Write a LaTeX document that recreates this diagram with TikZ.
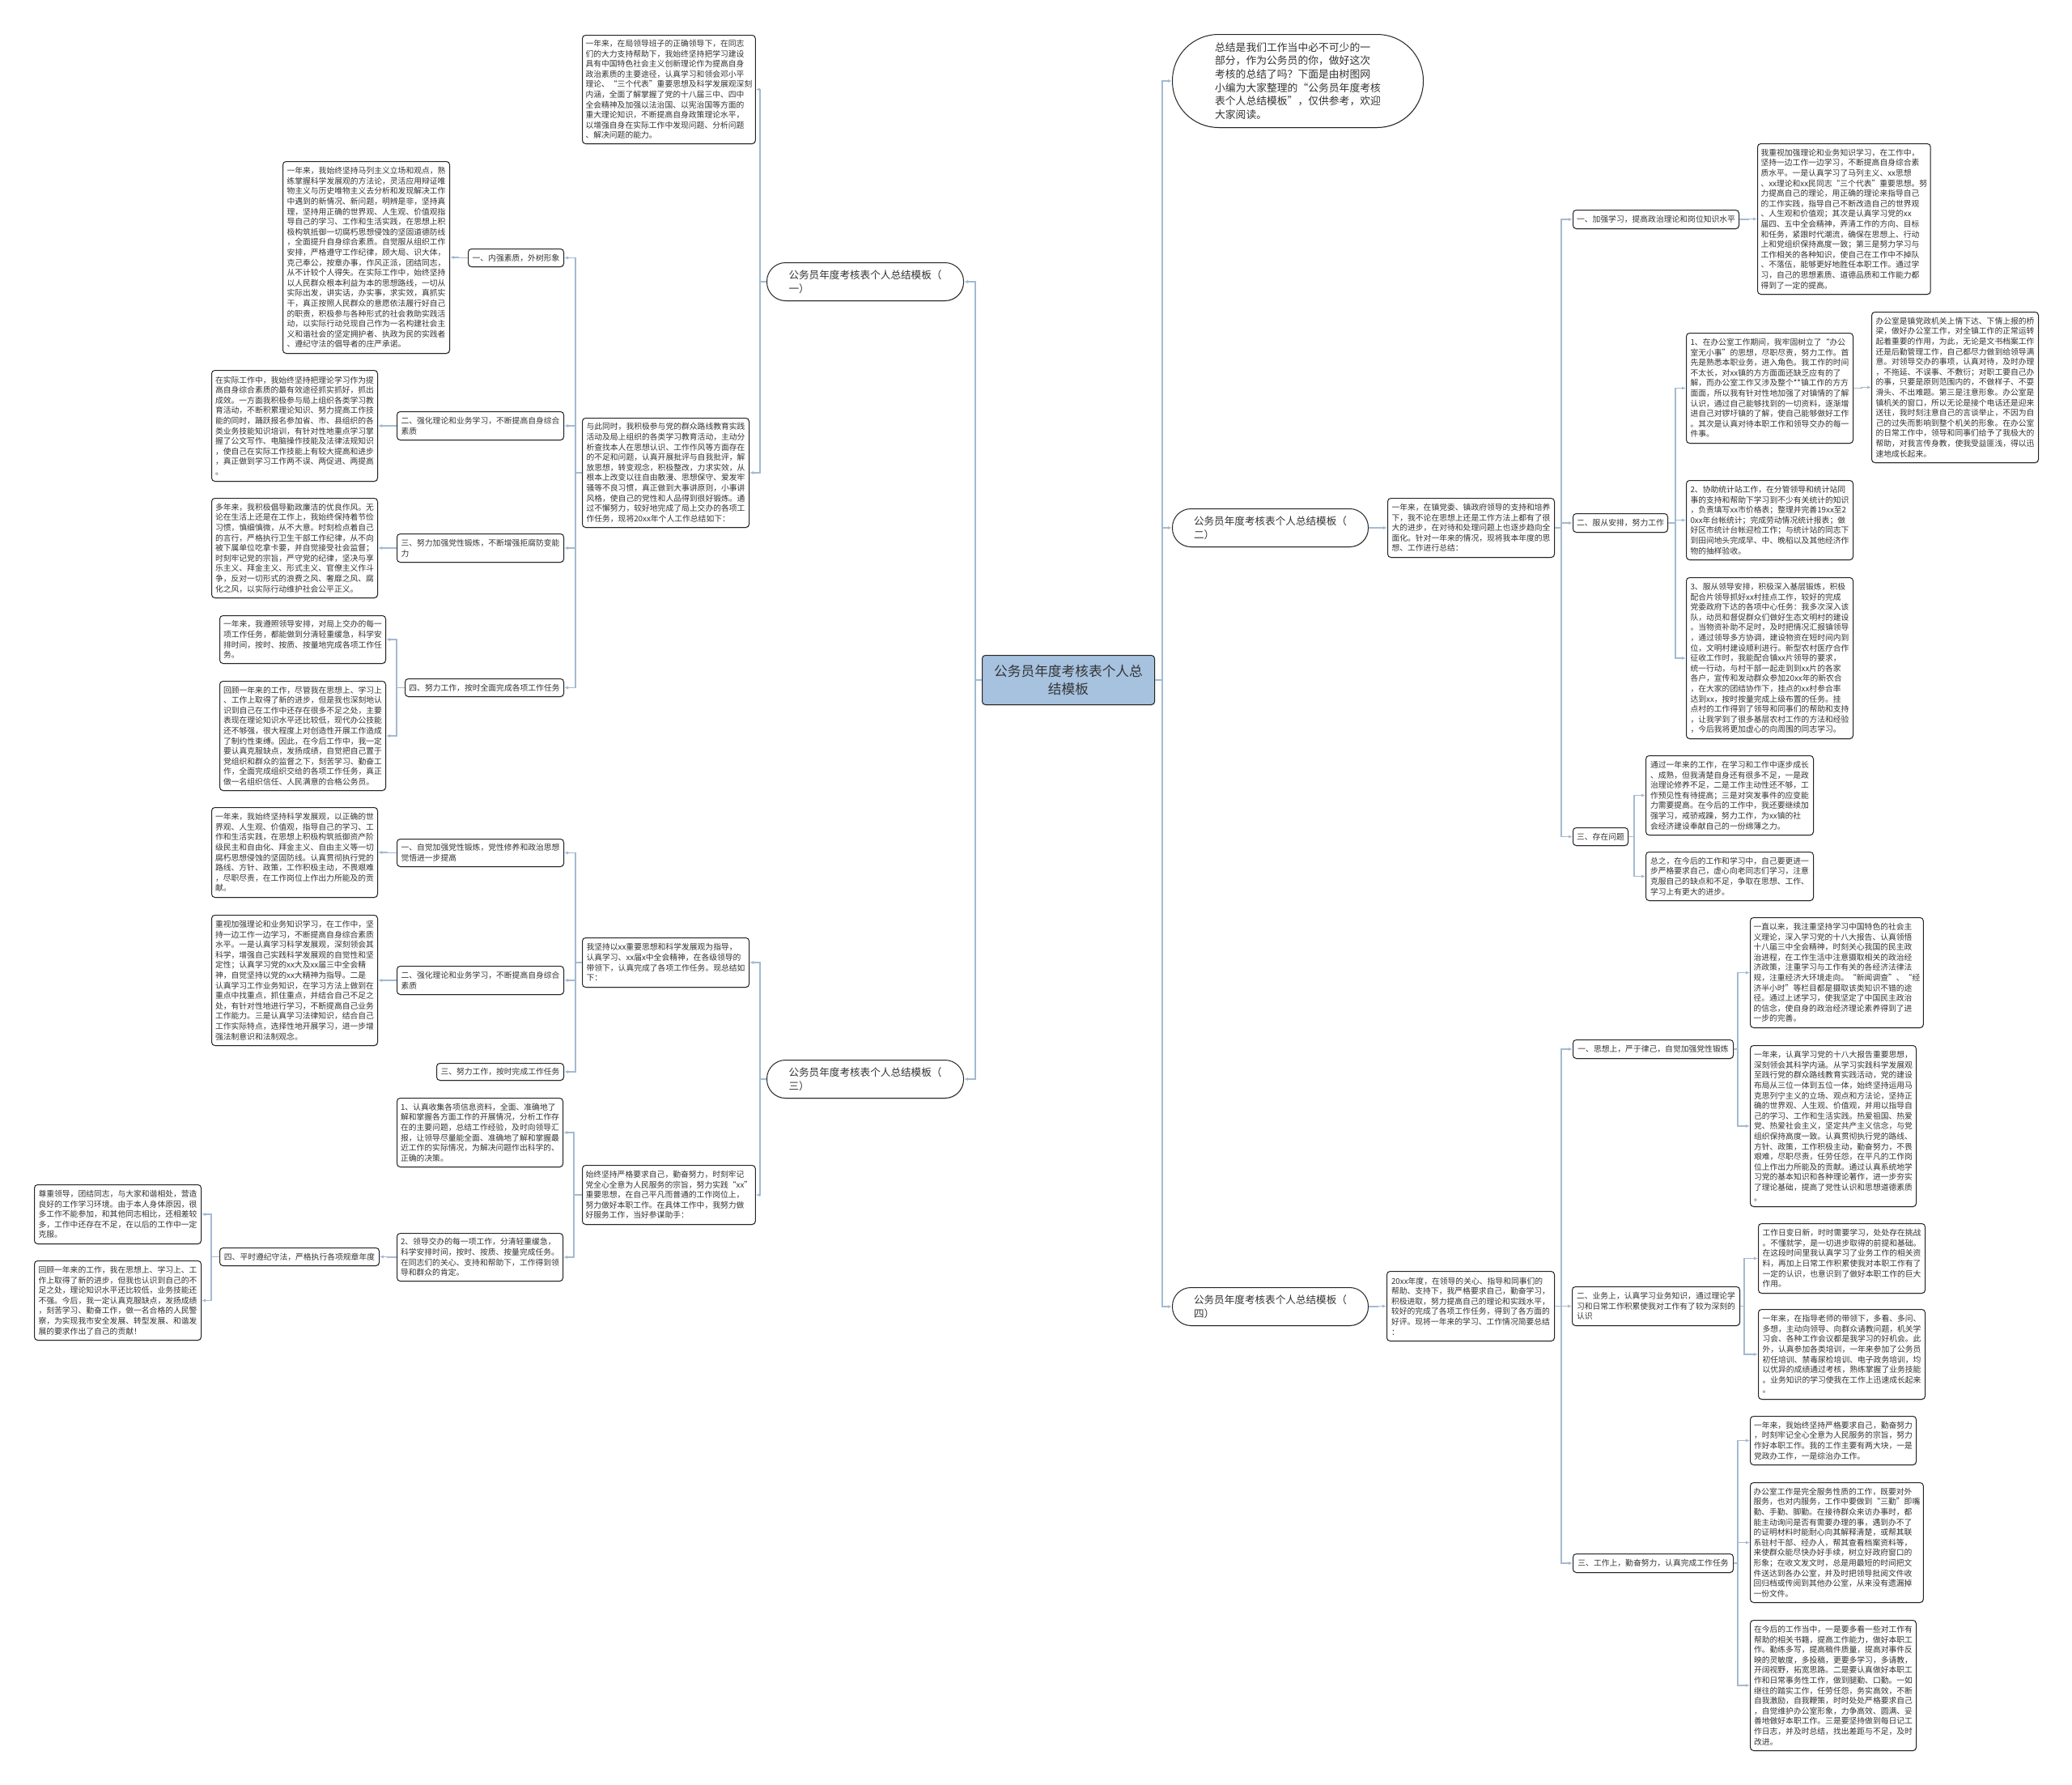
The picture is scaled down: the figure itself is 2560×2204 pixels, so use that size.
\documentclass[tikz,border=0pt]{standalone}
\usepackage{fontspec}
\setmainfont{Noto Sans CJK SC}
\usetikzlibrary{arrows.meta,shadows}
\definecolor{linec}{HTML}{A3BAD2}
\definecolor{bordc}{HTML}{262626}
\definecolor{txtc}{HTML}{333333}
\definecolor{rootc}{HTML}{A6C2DF}
\newcommand\fsA{\fontsize{9.8pt}{12.6pt}\selectfont}
\newcommand\fsB{\fontsize{12.6pt}{16.5pt}\selectfont}
\newcommand\fsC{\fontsize{16.7pt}{21.5pt}\selectfont}
\tikzset{
 blk/.style={draw=bordc, line width=1pt, rounded corners=4pt, fill=white, anchor=north west, inner xsep=4pt, inner ysep=3pt, align=left, font=\fsA, text=txtc, drop shadow={shadow xshift=0.6pt,shadow yshift=-1pt,opacity=0.3}},
 br/.style={blk, rounded corners=23pt, font=\fsB, inner xsep=10pt},
 conn/.style={draw=linec, line width=1.1pt, -{Latex[length=5pt,width=4pt]}},
}
\begin{document}
\begin{tikzpicture}[x=1pt,y=-1pt]
\fill[white] (0,0) rectangle (2560,2204);
\useasboundingbox (0,0) rectangle (2560,2204);

% ---------- centre ----------
\node[blk, fill=rootc, font=\fsC, align=center, minimum width=213pt, minimum height=61pt] (root) at (1213,809) {公务员年度考核表个人总\\结模板};

% ---------- tree one ----------
\node[br, minimum width=243pt, minimum height=47pt] (n1) at (947,324) {公务员年度考核表个人总结模板（\\一）};
\node[blk, minimum width=205pt, minimum height=134pt] (J) at (719,43) {一年来，在局领导班子的正确领导下，在同志\\们的大力支持帮助下，我始终坚持把学习建设\\具有中国特色社会主义创新理论作为提高自身\\政治素质的主要途径，认真学习和领会邓小平\\理论、“三个代表”重要思想及科学发展观深刻\\内涵，全面了解掌握了党的十八届三中、四中\\全会精神及加强以法治国、以宪治国等方面的\\重大理论知识，不断提高自身政策理论水平，\\以增强自身在实际工作中发现问题、分析问题\\、解决问题的能力。};
\node[blk, minimum width=206pt, minimum height=135pt] (K) at (719,516) {与此同时，我积极参与党的群众路线教育实践\\活动及局上组织的各类学习教育活动，主动分\\析查找本人在思想认识、工作作风等方面存在\\的不足和问题，认真开展批评与自我批评，解\\放思想，转变观念，积极整改，力求实效，从\\根本上改变以往自由散漫、思想保守、爱发牢\\骚等不良习惯，真正做到大事讲原则，小事讲\\风格，使自己的党性和人品得到很好锻炼。通\\过不懈努力，较好地完成了局上交办的各项工\\作任务，现将20xx年个人工作总结如下：};
\node[blk, minimum width=118pt, minimum height=22pt] (L1) at (578,307) {一、内强素质，外树形象};
\node[blk, minimum width=206pt, minimum height=237pt] (A) at (349,199) {一年来，我始终坚持马列主义立场和观点，熟\\练掌握科学发展观的方法论，灵活应用辩证唯\\物主义与历史唯物主义去分析和发现解决工作\\中遇到的新情况、新问题，明辨是非，坚持真\\理，坚持用正确的世界观、人生观、价值观指\\导自己的学习、工作和生活实践，在思想上积\\极构筑抵御一切腐朽思想侵蚀的坚固道德防线\\，全面提升自身综合素质。自觉服从组织工作\\安排，严格遵守工作纪律，顾大局、识大体，\\克己奉公，按章办事，作风正派，团结同志，\\从不计较个人得失。在实际工作中，始终坚持\\以人民群众根本利益为本的思想路线，一切从\\实际出发，讲实话，办实事，求实效，真抓实\\干，真正按照人民群众的意愿依法履行好自己\\的职责，积极参与各种形式的社会救助实践活\\动，以实际行动兑现自己作为一名构建社会主\\义和谐社会的坚定拥护者、执政为民的实践者\\、遵纪守法的倡导者的庄严承诺。};
\node[blk, minimum width=206pt, minimum height=35pt] (L2) at (490,508) {二、强化理论和业务学习，不断提高自身综合\\素质};
\node[blk, minimum width=205pt, minimum height=137pt] (B) at (261,457) {在实际工作中，我始终坚持把理论学习作为提\\高自身综合素质的最有效途径抓实抓好，抓出\\成效。一方面我积极参与局上组织各类学习教\\育活动，不断积累理论知识、努力提高工作技\\能的同时，踊跃报名参加省、市、县组织的各\\类业务技能知识培训，有针对性地重点学习掌\\握了公文写作、电脑操作技能及法律法规知识\\，使自己在实际工作技能上有较大提高和进步\\，真正做到学习工作两不误、两促进、两提高\\。};
\node[blk, minimum width=206pt, minimum height=35pt] (L3) at (490,659) {三、努力加强党性锻炼，不断增强拒腐防变能\\力};
\node[blk, minimum width=205pt, minimum height=123pt] (C) at (261,615) {多年来，我积极倡导勤政廉洁的优良作风。无\\论在生活上还是在工作上，我始终保持着节俭\\习惯，慎细慎微，从不大意。时刻检点着自己\\的言行，严格执行卫生干部工作纪律，从不向\\被下属单位吃拿卡要，并自觉接受社会监督；\\时刻牢记党的宗旨，严守党的纪律，坚决与享\\乐主义、拜金主义、形式主义、官僚主义作斗\\争，反对一切形式的浪费之风、奢靡之风、腐\\化之风，以实际行动维护社会公平正义。};
\node[blk, minimum width=196pt, minimum height=22pt] (L4) at (500,838) {四、努力工作，按时全面完成各项工作任务};
\node[blk, minimum width=205pt, minimum height=59pt] (D) at (271,760) {一年来，我遵照领导安排，对局上交办的每一\\项工作任务，都能做到分清轻重缓急，科学安\\排时间，按时、按质、按量地完成各项工作任\\务。};
\node[blk, minimum width=205pt, minimum height=135pt] (E) at (271,841) {回顾一年来的工作，尽管我在思想上、学习上\\、工作上取得了新的进步，但是我也深刻地认\\识到自己在工作中还存在很多不足之处，主要\\表现在理论知识水平还比较低，现代办公技能\\还不够强，很大程度上对创造性开展工作造成\\了制约性束缚。因此，在今后工作中，我一定\\要认真克服缺点，发扬成绩，自觉把自己置于\\党组织和群众的监督之下，刻苦学习、勤奋工\\作，全面完成组织交给的各项工作任务，真正\\做一名组织信任、人民满意的合格公务员。};

% ---------- tree three ----------
\node[br, minimum width=243pt, minimum height=47pt] (n3) at (947,1309) {公务员年度考核表个人总结模板（\\三）};
\node[blk, minimum width=206pt, minimum height=61pt] (L) at (719,1158) {我坚持以xx重要思想和科学发展观为指导，\\认真学习、xx届x中全会精神，在各级领导的\\带领下，认真完成了各项工作任务。现总结如\\下：};
\node[blk, minimum width=206pt, minimum height=34pt] (M1) at (490,1036) {一、自觉加强党性锻炼，党性修养和政治思想\\觉悟进一步提高};
\node[blk, minimum width=205pt, minimum height=111pt] (F) at (261,997) {一年来，我始终坚持科学发展观，以正确的世\\界观、人生观、价值观，指导自己的学习、工\\作和生活实践，在思想上积极构筑抵御资产阶\\级民主和自由化、拜金主义、自由主义等一切\\腐朽思想侵蚀的坚固防线。认真贯彻执行党的\\路线、方针、政策，工作积极主动，不畏艰难\\，尽职尽责，在工作岗位上作出力所能及的贡\\献。};
\node[blk, minimum width=206pt, minimum height=35pt] (M2) at (490,1193) {二、强化理论和业务学习，不断提高自身综合\\素质};
\node[blk, minimum width=205pt, minimum height=161pt] (G) at (261,1130) {重视加强理论和业务知识学习，在工作中，坚\\持一边工作一边学习，不断提高自身综合素质\\水平。一是认真学习科学发展观，深刻领会其\\科学，增强自己实践科学发展观的自觉性和坚\\定性；认真学习党的xx大及xx届三中全会精\\神，自觉坚持以党的xx大精神为指导。二是\\认真学习工作业务知识，在学习方法上做到在\\重点中找重点，抓住重点，并结合自己不足之\\处，有针对性地进行学习，不断提高自己业务\\工作能力。三是认真学习法律知识，结合自己\\工作实际特点，选择性地开展学习，进一步增\\强法制意识和法制观念。};
\node[blk, minimum width=157pt, minimum height=21pt] (M3) at (539,1313) {三、努力工作，按时完成工作任务};
\node[blk, minimum width=204pt, minimum height=73pt] (M) at (719,1439) {始终坚持严格要求自己，勤奋努力，时刻牢记\\党全心全意为人民服务的宗旨，努力实践“xx”\\重要思想，在自己平凡而普通的工作岗位上，\\努力做好本职工作。在具体工作中，我努力做\\好服务工作，当好参谋助手：};
\node[blk, minimum width=205pt, minimum height=85pt] (N) at (490,1356) {1、认真收集各项信息资料，全面、准确地了\\解和掌握各方面工作的开展情况，分析工作存\\在的主要问题，总结工作经验，及时向领导汇\\报，让领导尽量能全面、准确地了解和掌握最\\近工作的实际情况，为解决问题作出科学的、\\正确的决策。};
\node[blk, minimum width=205pt, minimum height=59pt] (O) at (490,1523) {2、领导交办的每一项工作，分清轻重缓急，\\科学安排时间，按时、按质、按量完成任务。\\在同志们的关心、支持和帮助下，工作得到领\\导和群众的肯定。};
\node[blk, minimum width=197pt, minimum height=22pt] (M4) at (271,1541) {四、平时遵纪守法，严格执行各项规章年度};
\node[blk, minimum width=206pt, minimum height=73pt] (H) at (42,1463) {尊重领导，团结同志，与大家和谐相处，营造\\良好的工作学习环境。由于本人身体原因，很\\多工作不能参加，和其他同志相比，还相差较\\多，工作中还存在不足，在以后的工作中一定\\克服。};
\node[blk, minimum width=206pt, minimum height=98pt] (I) at (42,1557) {回顾一年来的工作，我在思想上、学习上、工\\作上取得了新的进步，但我也认识到自己的不\\足之处，理论知识水平还比较低，业务技能还\\不强。今后，我一定认真克服缺点，发扬成绩\\，刻苦学习、勤奋工作，做一名合格的人民警\\察，为实现我市安全发展、转型发展、和谐发\\展的要求作出了自己的贡献！};

% ---------- right side ----------
\node[blk, rounded corners=57pt, font=\fontsize{12.8pt}{16.7pt}\selectfont, minimum width=310pt, minimum height=115pt] (intro) at (1448,42) {总结是我们工作当中必不可少的一\\部分，作为公务员的你，做好这次\\考核的总结了吗？下面是由树图网\\小编为大家整理的“公务员年度考核\\表个人总结模板”，仅供参考，欢迎\\大家阅读。};
\node[br, minimum width=242pt, minimum height=47pt] (n2) at (1448,628) {公务员年度考核表个人总结模板（\\二）};
\node[br, minimum width=242pt, minimum height=47pt] (n4) at (1448,1590) {公务员年度考核表个人总结模板（\\四）};

\node[blk, minimum width=206pt, minimum height=73pt] (P0) at (1714,615) {一年来，在镇党委、镇政府领导的支持和培养\\下，我不论在思想上还是工作方法上都有了很\\大的进步，在对待和处理问题上也逐步趋向全\\面化。针对一年来的情况，现将我本年度的思\\想、工作进行总结：};
\node[blk, minimum width=205pt, minimum height=23pt] (R1) at (1943,259) {一、加强学习，提高政治理论和岗位知识水平};
\node[blk, minimum width=206pt, minimum height=186pt] (P) at (2171,177) {我重视加强理论和业务知识学习，在工作中，\\坚持一边工作一边学习，不断提高自身综合素\\质水平。一是认真学习了马列主义、xx思想\\、xx理论和xx民同志“三个代表”重要思想。努\\力提高自己的理论，用正确的理论来指导自己\\的工作实践，指导自己不断改造自己的世界观\\、人生观和价值观；其次是认真学习党的xx\\届四、五中全会精神，弄清工作的方向、目标\\和任务，紧跟时代潮流，确保在思想上、行动\\上和党组织保持高度一致；第三是努力学习与\\工作相关的各种知识，使自己在工作中不掉队\\、不落伍，能够更好地胜任本职工作。通过学\\习，自己的思想素质、道德品质和工作能力都\\得到了一定的提高。};
\node[blk, minimum width=117pt, minimum height=23pt] (R2) at (1943,634) {二、服从安排，努力工作};
\node[blk, minimum width=206pt, minimum height=136pt] (Q) at (2083,411) {1、在办公室工作期间，我牢固树立了“办公\\室无小事”的思想，尽职尽责，努力工作。首\\先是熟悉本职业务，进入角色。我工作的时间\\不太长，对xx镇的方方面面还缺乏应有的了\\解，而办公室工作又涉及整个**镇工作的方方\\面面，所以我有针对性地加强了对镇情的了解\\认识，通过自己能够找到的一切资料，逐渐增\\进自己对锣圩镇的了解，使自己能够做好工作\\。其次是认真对待本职工作和领导交办的每一\\件事。};
\node[blk, minimum width=206pt, minimum height=186pt] (R) at (2312,385) {办公室是镇党政机关上情下达、下情上报的桥\\梁，做好办公室工作，对全镇工作的正常运转\\起着重要的作用，为此，无论是文书档案工作\\还是后勤管理工作，自己都尽力做到给领导满\\意。对领导交办的事项，认真对待，及时办理\\，不拖延、不误事、不敷衍；对职工要自己办\\的事，只要是原则范围内的，不做样子、不耍\\滑头、不出难题。第三是注意形象。办公室是\\镇机关的窗口，所以无论是接个电话还是迎来\\送往，我时刻注意自己的言谈举止，不因为自\\己的过失而影响到整个机关的形象。在办公室\\的日常工作中，领导和同事们给予了我极大的\\帮助，对我言传身教，使我受益匪浅，得以迅\\速地成长起来。};
\node[blk, minimum width=206pt, minimum height=98pt] (S) at (2083,593) {2、协助统计站工作，在分管领导和统计站同\\事的支持和帮助下学习到不少有关统计的知识\\，负责填写xx市价格表；整理并完善19xx至2\\0xx年台帐统计；完成劳动情况统计报表；做\\好区市统计台帐迎检工作；与统计站的同志下\\到田间地头完成早、中、晚稻以及其他经济作\\物的抽样验收。};
\node[blk, minimum width=206pt, minimum height=199pt] (T) at (2083,713) {3、服从领导安排，积极深入基层锻炼，积极\\配合片领导抓好xx村挂点工作，较好的完成\\党委政府下达的各项中心任务：我多次深入该\\队，动员和督促群众们做好生态文明村的建设\\。当物资补助不足时，及时把情况汇报镇领导\\，通过领导多方协调，建设物资在短时间内到\\位，文明村建设顺利进行。新型农村医疗合作\\征收工作时，我能配合镇xx片领导的要求，\\统一行动，与村干部一起走到到xx片的各家\\各户，宣传和发动群众参加20xx年的新农合\\，在大家的团结协作下，挂点的xx村参合率\\达到xx，按时按量完成上级布置的任务。挂\\点村的工作得到了领导和同事们的帮助和支持\\，让我学到了很多基层农村工作的方法和经验\\，今后我将更加虚心的向周围的同志学习。};
\node[blk, minimum width=68pt, minimum height=22pt] (R3) at (1943,1022) {三、存在问题};
\node[blk, minimum width=207pt, minimum height=98pt] (U) at (2033,933) {通过一年来的工作，在学习和工作中逐步成长\\、成熟，但我清楚自身还有很多不足，一是政\\治理论修养不足，二是工作主动性还不够，工\\作预见性有待提高；三是对突发事件的应变能\\力需要提高。在今后的工作中，我还要继续加\\强学习，戒骄戒躁，努力工作，为xx镇的社\\会经济建设奉献自己的一份绵薄之力。};
\node[blk, minimum width=207pt, minimum height=60pt] (V) at (2033,1052) {总之，在今后的工作和学习中，自己要更进一\\步严格要求自己，虚心向老同志们学习，注意\\克服自己的缺点和不足，争取在思想、工作、\\学习上有更大的进步。};

\node[blk, minimum width=207pt, minimum height=86pt] (Y) at (1713,1570) {20xx年度，在领导的关心、指导和同事们的\\帮助、支持下，我严格要求自己，勤奋学习，\\积极进取，努力提高自己的理论和实践水平，\\较好的完成了各项工作任务，得到了各方面的\\好评。现将一年来的学习、工作情况简要总结\\：};
\node[blk, minimum width=198pt, minimum height=23pt] (S1) at (1943,1284) {一、思想上，严于律己，自觉加强党性锻炼};
\node[blk, minimum width=205pt, minimum height=136pt] (W) at (2162,1133) {一直以来，我注重坚持学习中国特色的社会主\\义理论，深入学习党的十八大报告、认真领悟\\十八届三中全会精神，时刻关心我国的民主政\\治进程，在工作生活中注意摄取相关的政治经\\济政策，注重学习与工作有关的各经济法律法\\规，注重经济大环境走向。“新闻调查”、“经\\济半小时”等栏目都是摄取该类知识不错的途\\径。通过上述学习，使我坚定了中国民主政治\\的信念，使自身的政治经济理论素养得到了进\\一步的完善。};
\node[blk, minimum width=205pt, minimum height=199pt] (X) at (2162,1291) {一年来，认真学习党的十八大报告重要思想，\\深刻领会其科学内涵。从学习实践科学发展观\\至践行党的群众路线教育实践活动，党的建设\\布局从三位一体到五位一体，始终坚持运用马\\克思列宁主义的立场、观点和方法论，坚持正\\确的世界观、人生观、价值观，并用以指导自\\己的学习、工作和生活实践。热爱祖国、热爱\\党、热爱社会主义，坚定共产主义信念，与党\\组织保持高度一致。认真贯彻执行党的路线、\\方针、政策，工作积极主动，勤奋努力，不畏\\艰难，尽职尽责，任劳任怨，在平凡的工作岗\\位上作出力所能及的贡献。通过认真系统地学\\习党的基本知识和各种理论著作，进一步夯实\\了理论基础，提高了党性认识和思想道德素质\\。};
\node[blk, minimum width=207pt, minimum height=48pt] (S2) at (1942,1589) {二、业务上，认真学习业务知识，通过理论学\\习和日常工作积累使我对工作有了较为深刻的\\认识};
\node[blk, minimum width=206pt, minimum height=86pt] (Z) at (2172,1511) {工作日变日新，时时需要学习，处处存在挑战\\。不懂就学，是一切进步取得的前提和基础。\\在这段时间里我认真学习了业务工作的相关资\\料，再加上日常工作积累使我对本职工作有了\\一定的认识，也意识到了做好本职工作的巨大\\作用。};
\node[blk, minimum width=206pt, minimum height=111pt] (AA) at (2172,1617) {一年来，在指导老师的带领下，多看、多问、\\多想，主动向领导、向群众请教问题，机关学\\习会、各种工作会议都是我学习的好机会。此\\外，认真参加各类培训，一年来参加了公务员\\初任培训、禁毒尿检培训、电子政务培训，均\\以优异的成绩通过考核，熟练掌握了业务技能\\。业务知识的学习使我在工作上迅速成长起来\\。};
\node[blk, minimum width=198pt, minimum height=23pt] (S3) at (1943,1919) {三、工作上，勤奋努力，认真完成工作任务};
\node[blk, minimum width=205pt, minimum height=60pt] (AB) at (2162,1749) {一年来，我始终坚持严格要求自己，勤奋努力\\，时刻牢记全心全意为人民服务的宗旨，努力\\作好本职工作。我的工作主要有两大块，一是\\党政办工作，一是综治办工作。};
\node[blk, minimum width=205pt, minimum height=148pt] (AC) at (2162,1831) {办公室工作是完全服务性质的工作，既要对外\\服务，也对内服务，工作中要做到“三勤”即嘴\\勤、手勤、脚勤。在接待群众来访办事时，都\\能主动询问是否有需要办理的事，遇到办不了\\的证明材料时能耐心向其解释清楚，或帮其联\\系驻村干部、经办人，帮其查看档案资料等，\\来使群众能尽快办好手续，树立好政府窗口的\\形象；在收文发文时，总是用最短的时间把文\\件送达到各办公室，并及时把领导批阅文件收\\回归档或传阅到其他办公室，从来没有遗漏掉\\一份文件。};
\node[blk, minimum width=205pt, minimum height=161pt] (AD) at (2162,2001) {在今后的工作当中，一是要多看一些对工作有\\帮助的相关书籍，提高工作能力，做好本职工\\作。勤练多写，提高稿件质量，提高对事件反\\映的灵敏度，多投稿，更要多学习，多请教，\\开阔视野，拓宽思路。二是要认真做好本职工\\作和日常事务性工作，做到腿勤、口勤。一如\\继往的踏实工作，任劳任怨，务实高效，不断\\自我激励，自我鞭策，时时处处严格要求自己\\，自觉维护办公室形象，力争高效、圆满、妥\\善地做好本职工作。三是要坚持做到每日记工\\作日志，并及时总结，找出差距与不足，及时\\改进。};

% ---------- trunk coordinates ----------
\coordinate (tcL) at (1205,0);
\coordinate (tcR) at (1436,0);
\coordinate (t1) at (939,0);
\coordinate (tK) at (711,0);
\coordinate (tA) at (566,0);
\coordinate (tB) at (478,0);
\coordinate (tD) at (490,0);
\coordinate (tM) at (709,0);
\coordinate (tO) at (479,0);
\coordinate (tM4) at (261,0);
\coordinate (tn2) at (1702,0);
\coordinate (tR) at (1929,0);
\coordinate (tR1) at (2160,0);
\coordinate (tR2) at (2070,0);
\coordinate (tQ) at (2300,0);
\coordinate (tR3) at (2019,0);
\coordinate (tS1) at (2147,0);
\coordinate (tS2) at (2155,0);

% ---------- connectors, left ----------
\foreach \c in {n1,n3} \draw[conn] (root.west) -- (root.west -| tcL) |- (\c.east);
\foreach \c in {J,K} \draw[conn] (n1.west) -- (n1.west -| t1) |- (\c.east);
\foreach \c in {L1,L2,L3,L4} \draw[conn] (K.west) -- (K.west -| tK) |- (\c.east);
\draw[conn] (L1.west) -- (L1.west -| tA) |- (A.east);
\draw[conn] (L2.west) -- (L2.west -| tB) |- (B.east);
\draw[conn] (L3.west) -- (L3.west -| tB) |- (C.east);
\foreach \c in {D,E} \draw[conn] (L4.west) -- (L4.west -| tD) |- (\c.east);
\foreach \c in {L,M} \draw[conn] (n3.west) -- (n3.west -| t1) |- (\c.east);
\foreach \c in {M1,M2,M3} \draw[conn] (L.west) -- (L.west -| tK) |- (\c.east);
\draw[conn] (M1.west) -- (M1.west -| tB) |- (F.east);
\draw[conn] (M2.west) -- (M2.west -| tB) |- (G.east);
\foreach \c in {N,O} \draw[conn] (M.west) -- (M.west -| tM) |- (\c.east);
\draw[conn] (O.west) -- (O.west -| tO) |- (M4.east);
\foreach \c in {H,I} \draw[conn] (M4.west) -- (M4.west -| tM4) |- (\c.east);

% ---------- connectors, right ----------
\foreach \c in {intro,n2,n4} \draw[conn] (root.east) -- (root.east -| tcR) |- (\c.west);
\draw[conn] (n2.east) -- (n2.east -| tn2) |- (P0.west);
\draw[conn] (n4.east) -- (n4.east -| tn2) |- (Y.west);
\foreach \c in {R1,R2,R3} \draw[conn] (P0.east) -- (P0.east -| tR) |- (\c.west);
\draw[conn] (R1.east) -- (R1.east -| tR1) |- (P.west);
\foreach \c in {Q,S,T} \draw[conn] (R2.east) -- (R2.east -| tR2) |- (\c.west);
\draw[conn] (Q.east) -- (Q.east -| tQ) |- (R.west);
\foreach \c in {U,V} \draw[conn] (R3.east) -- (R3.east -| tR3) |- (\c.west);
\foreach \c in {S1,S2,S3} \draw[conn] (Y.east) -- (Y.east -| tR) |- (\c.west);
\foreach \c in {W,X} \draw[conn] (S1.east) -- (S1.east -| tS1) |- (\c.west);
\foreach \c in {Z,AA} \draw[conn] (S2.east) -- (S2.east -| tS2) |- (\c.west);
\foreach \c in {AB,AC,AD} \draw[conn] (S3.east) -- (S3.east -| tS1) |- (\c.west);
\end{tikzpicture}
\end{document}
